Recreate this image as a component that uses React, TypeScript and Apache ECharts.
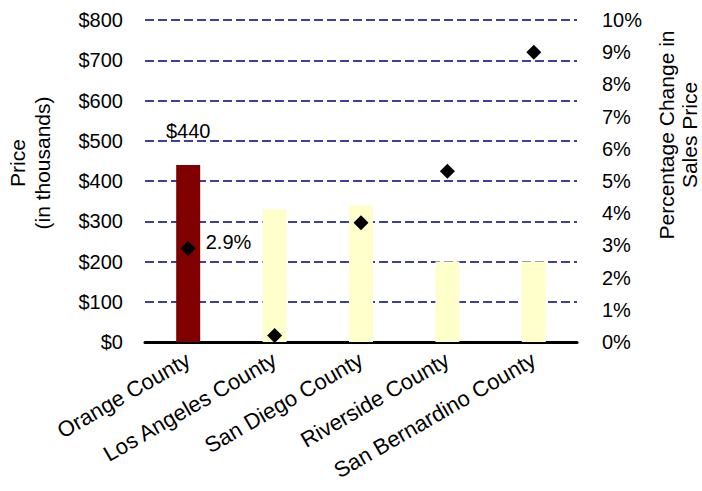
import React, { useEffect, useRef } from "react";
import * as echarts from "echarts";

// Median home prices (thousands of dollars) and year-over-year change (%)
const counties = [
  "Orange County",
  "Los Angeles County",
  "San Diego County",
  "Riverside County",
  "San Bernardino County",
];
const medianPrice = [440, 330, 340, 200, 200];
const pctChange = [2.9, 0.2, 3.7, 5.3, 9.0];
const priceTicks = { min: 0, max: 800, interval: 100 };
const pctTicks = { min: 0, max: 10, interval: 1 };

const FONT = "Arial, 'Liberation Sans', sans-serif";
const HIGHLIGHT = "#800000";
const PALE = "#FFFFCC";
const FS = 20;

export default function App() {
  const ref = useRef<HTMLDivElement>(null);

  useEffect(() => {
    if (!ref.current) return;
    const chart = echarts.init(ref.current, undefined, { renderer: "svg" });

    const barData = medianPrice.map((v, i) =>
      i === 0
        ? {
            value: v,
            itemStyle: { color: HIGHLIGHT },
            label: {
              show: true,
              position: "top",
              distance: 24,
              formatter: "${c}",
              color: "#000",
              fontSize: FS,
              fontFamily: FONT,
            },
          }
        : { value: v, itemStyle: { color: PALE } }
    );

    const pointData = pctChange.map((v, i) =>
      i === 0
        ? {
            value: v,
            label: {
              show: true,
              position: "right",
              distance: 10,
              offset: [0, -7],
              formatter: (p: any) => `${p.value}%`,
              color: "#000",
              fontSize: FS,
              fontFamily: FONT,
            },
          }
        : v
    );

    chart.setOption({
      animation: false,
      backgroundColor: "#fff",
      textStyle: { fontFamily: FONT },
      grid: { left: 145, right: 125, top: 20, bottom: 149 },
      xAxis: {
        type: "category",
        data: counties,
        axisLine: { lineStyle: { color: "#000", width: 3 } },
        axisTick: { show: false },
        axisLabel: {
          rotate: 30,
          interval: 0,
          margin: 16,
          color: "#000",
          fontSize: 22,
          fontFamily: FONT,
        },
      },
      yAxis: [
        {
          type: "value",
          ...priceTicks,
          axisLine: { show: false },
          axisTick: { show: false },
          axisLabel: {
            formatter: "${value}",
            color: "#000",
            fontSize: FS,
            fontFamily: FONT,
            margin: 22,
          },
          splitLine: {
            lineStyle: { color: "#000080", type: [9, 4], width: 1.6 },
          },
        },
        {
          type: "value",
          ...pctTicks,
          position: "right",
          axisLine: { show: false },
          axisTick: { show: false },
          axisLabel: {
            formatter: "{value}%",
            color: "#000",
            fontSize: FS,
            fontFamily: FONT,
            margin: 25,
          },
          splitLine: { show: false },
        },
      ],
      graphic: [
        {
          type: "text",
          x: 30,
          y: 163,
          rotation: Math.PI / 2,
          style: {
            text: "Price\n(in thousands)",
            textAlign: "center",
            textVerticalAlign: "middle",
            fontSize: 21,
            fontFamily: FONT,
            fill: "#000",
            lineHeight: 25,
          },
        },
        {
          type: "text",
          x: 678,
          y: 135,
          rotation: Math.PI / 2,
          style: {
            text: "Percentage Change in\nSales Price",
            textAlign: "center",
            textVerticalAlign: "middle",
            fontSize: 21,
            fontFamily: FONT,
            fill: "#000",
            lineHeight: 23,
          },
        },
      ],
      series: [
        {
          type: "bar",
          yAxisIndex: 0,
          barWidth: 24,
          data: barData,
        },
        {
          type: "scatter",
          yAxisIndex: 1,
          symbol: "diamond",
          symbolSize: [15, 15],
          itemStyle: { color: "#000", opacity: 1 },
          data: pointData,
          z: 5,
        },
      ],
    });

    return () => chart.dispose();
  }, []);

  return <div ref={ref} style={{ width: 702, height: 491, position: "absolute", left: 0, top: 0 }} />;
}
